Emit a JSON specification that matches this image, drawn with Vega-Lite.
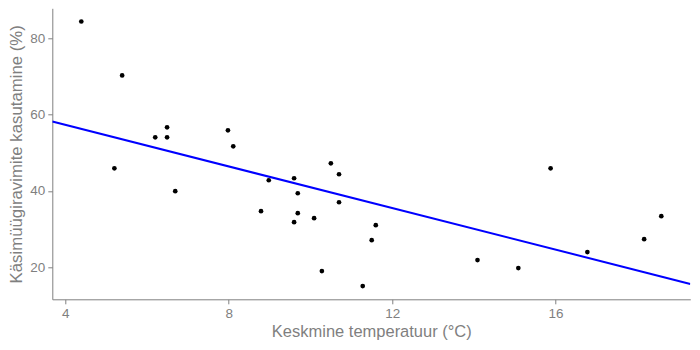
{
  "$schema": "https://vega.github.io/schema/vega-lite/v6.json",
  "width": 638,
  "height": 291,
  "autosize": {"type": "none"},
  "padding": {"left": 52.3, "top": 8.3, "right": 9.3, "bottom": 50.7},
  "background": "white",
  "config": {
    "view": {"stroke": null},
    "font": "Liberation Sans",
    "axis": {
      "grid": false,
      "domainColor": "#7f7f7f",
      "domainWidth": 1,
      "tickColor": "#7f7f7f",
      "tickWidth": 1,
      "tickSize": 4.5,
      "labelColor": "#7f7f7f",
      "labelFontSize": 13.5,
      "labelPadding": 3,
      "labelFlush": false,
      "labelOverlap": false,
      "titleColor": "#7f7f7f",
      "titleFontWeight": "normal"
    }
  },
  "data": {
    "values": [
      {"temp": 4.39, "use": 84.46},
      {"temp": 5.39, "use": 70.3},
      {"temp": 6.2, "use": 54.05},
      {"temp": 6.49, "use": 56.67},
      {"temp": 6.49, "use": 54.05},
      {"temp": 7.98, "use": 55.88},
      {"temp": 8.11, "use": 51.69},
      {"temp": 5.2, "use": 45.92},
      {"temp": 6.69, "use": 39.9},
      {"temp": 8.98, "use": 42.78},
      {"temp": 8.79, "use": 34.65},
      {"temp": 9.6, "use": 43.3},
      {"temp": 10.5, "use": 47.23},
      {"temp": 10.7, "use": 44.35},
      {"temp": 9.69, "use": 39.37},
      {"temp": 10.7, "use": 37.01},
      {"temp": 9.69, "use": 34.13},
      {"temp": 9.6, "use": 31.77},
      {"temp": 10.09, "use": 32.82},
      {"temp": 11.6, "use": 30.98},
      {"temp": 11.5, "use": 27.05},
      {"temp": 10.28, "use": 18.93},
      {"temp": 11.28, "use": 14.99},
      {"temp": 14.09, "use": 21.81},
      {"temp": 15.09, "use": 19.71},
      {"temp": 15.88, "use": 45.92},
      {"temp": 16.78, "use": 23.91},
      {"temp": 18.17, "use": 27.31},
      {"temp": 18.59, "use": 33.34}
    ]
  },
  "layer": [
    {
      "mark": {"type": "circle", "size": 22, "color": "black", "opacity": 1},
      "encoding": {
        "x": {
          "field": "temp",
          "type": "quantitative",
          "scale": {"domain": [3.68, 19.3], "nice": false, "zero": false},
          "axis": {"values": [4, 8, 12, 16], "title": "Keskmine temperatuur (°C)", "titleFontSize": 16.5, "titlePadding": 3}
        },
        "y": {
          "field": "use",
          "type": "quantitative",
          "scale": {"domain": [11.52, 87.93], "nice": false, "zero": false},
          "axis": {"values": [20, 40, 60, 80], "title": "Käsimüügiravimite kasutamine (%)", "titleFontSize": 16.8, "titlePadding": 4}
        }
      }
    },
    {
      "transform": [{"regression": "use", "on": "temp", "extent": [3.68, 19.3]}],
      "mark": {"type": "line", "color": "#0000ff", "strokeWidth": 2, "clip": true},
      "encoding": {
        "x": {"field": "temp", "type": "quantitative"},
        "y": {"field": "use", "type": "quantitative"}
      }
    }
  ]
}
